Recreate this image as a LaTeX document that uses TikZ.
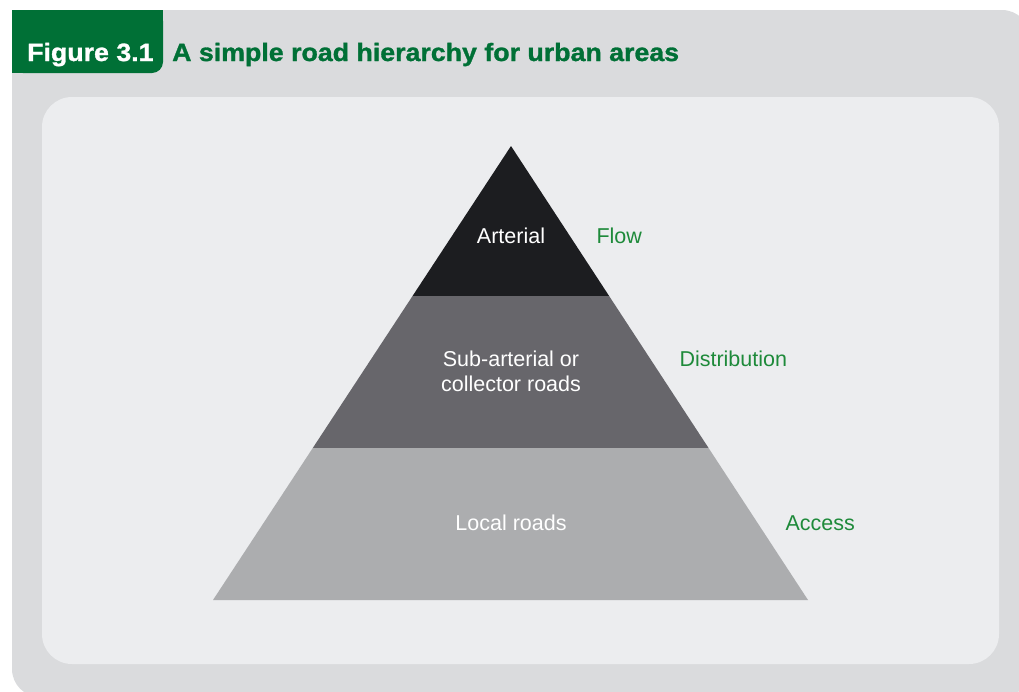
\documentclass[tikz,border=0pt]{standalone}
\usepackage{fontspec}
\setmainfont{Liberation Sans}
\newfontfamily\headfont{Liberation Sans}[FakeStretch=1.07,FakeBold=1.2]
\usetikzlibrary{positioning}
\usetikzlibrary{calc}

\definecolor{panelgrey}{RGB}{218,219,221}
\definecolor{innergrey}{RGB}{236,237,239}
\definecolor{tabgreen}{RGB}{0,112,54}
\definecolor{labelgreen}{RGB}{30,138,58}
\definecolor{layerdark}{RGB}{28,29,32}
\definecolor{layermid}{RGB}{103,102,107}
\definecolor{layerlight}{RGB}{172,173,175}

\begin{document}
\begin{tikzpicture}[x=1pt,y=-1pt]
			\tikzset{layertext/.style = {text=white, align=center, font=\fontsize{21.5}{25}\selectfont},
				sidetext/.style = {text=labelgreen, anchor=west, font=\fontsize{21.5}{25}\selectfont},
				titletext/.style = {anchor=base west, inner sep=0pt, font=\headfont\bfseries\fontsize{25}{30}\selectfont}}
			
			\useasboundingbox (0,0) rectangle (1019,691);
			
			% panels
			\fill[panelgrey, rounded corners=28pt] (12,10) rectangle (1030,697);
			\fill[tabgreen, rounded corners=11pt] (12,10) rectangle (163,73);
			\fill[tabgreen] (12,10) rectangle (163,50);
			\fill[tabgreen] (12,30) rectangle (120,73);
			\fill[innergrey, rounded corners=30pt] (42,97) rectangle (999,664);
			
			\node[titletext, text=white] (FIGNUM) at (27,61) {Figure 3.1};
			\node[titletext, text=tabgreen] (TITLE) at (172,61) {A simple road hierarchy for urban areas};
			
			% pyramid
			\coordinate (APEX) at (511,146);
			\coordinate (BL) at (213,600);
			\coordinate (BR) at (808,600);
			\coordinate (L1) at ($(APEX)!0.3304!(BL)$);
			\coordinate (R1) at ($(APEX)!0.3304!(BR)$);
			\coordinate (L2) at ($(APEX)!0.6652!(BL)$);
			\coordinate (R2) at ($(APEX)!0.6652!(BR)$);
			
			\fill[layerdark] (APEX) -- (R1) -- (L1) -- cycle;
			\fill[layermid] (L1) -- (R1) -- (R2) -- (L2) -- cycle;
			\fill[layerlight] (L2) -- (R2) -- (BR) -- (BL) -- cycle;
			
			\node[layertext] (ARTERIAL) at (511,236) {Arterial};
			\node[layertext] (COLLECTOR) at (511,371) {Sub-arterial or\\collector roads};
			\node[layertext] (LOCAL) at (511,523) {Local roads};
			
			\node[sidetext] (FLOW) at (593,236) {Flow};
			\node[sidetext] (DISTRIB) at (676,359) {Distribution};
			\node[sidetext] (ACCESS) at (782,523) {Access};
			
			\end{tikzpicture}
\end{document}
